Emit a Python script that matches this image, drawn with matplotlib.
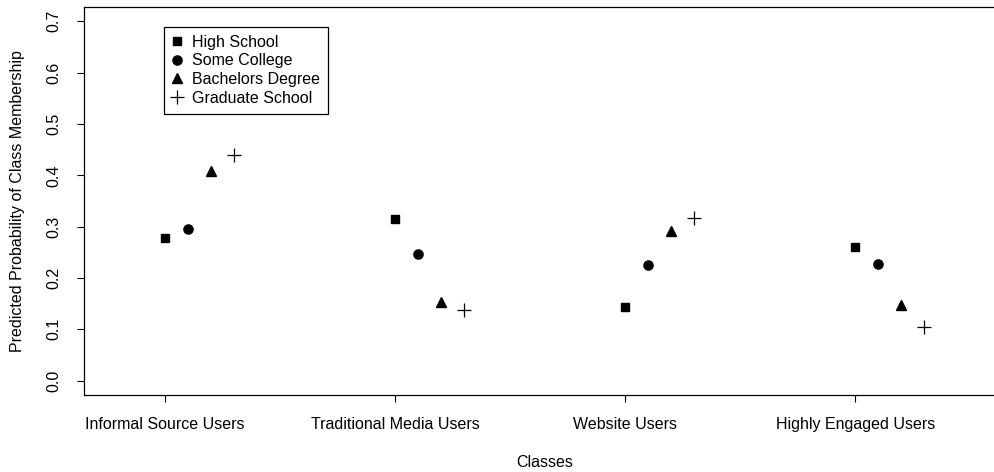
"""
Predicted probability of class membership by education level.
"""
import matplotlib
matplotlib.use("Agg")
from matplotlib import pyplot as plt
import numpy as np


CLASSES = ["Informal Source Users", "Traditional Media Users",
           "Website Users", "Highly Engaged Users"]
EDUCATION = ["High School", "Some College", "Bachelors Degree", "Graduate School"]

HIGH_SCHOOL = [0.277, 0.314, 0.143, 0.261]
SOME_COLLEGE = [0.296, 0.246, 0.225, 0.228]
BACHELORS = [0.409, 0.154, 0.291, 0.148]
GRADUATE = [0.440, 0.137, 0.316, 0.104]

OFFSETS = [0.0, 0.1, 0.2, 0.3]
MARKERS = {
    "High School": dict(marker="s", ms=5.8),
    "Some College": dict(marker="o", ms=6.6),
    "Bachelors Degree": dict(marker="^", ms=7.0),
    "Graduate School": dict(marker="+", ms=9.5, mew=0.9),
}
FONTSIZE = 11.5


if __name__ == "__main__":
    plt.rcParams["font.family"] = ["Liberation Sans", "DejaVu Sans"]
    plt.rcParams["font.size"] = FONTSIZE

    fig = plt.figure(figsize=(9.95, 4.72), dpi=100)
    ax = fig.add_axes([84 / 995, 77 / 472, 1 - 84 / 995 + 0.01, 388 / 472])

    x = np.arange(1, len(CLASSES) + 1)
    series = [HIGH_SCHOOL, SOME_COLLEGE, BACHELORS, GRADUATE]
    for name, values, off in zip(EDUCATION, series, OFFSETS):
        ax.plot(x + off, values, linestyle="none", color="black",
                label=name, **MARKERS[name])

    ax.set_xlim(0.649, 4.65)
    ax.set_ylim(-0.028, 0.728)
    ax.set_xticks(x)
    ax.set_xticklabels(CLASSES)
    ax.set_yticks(np.arange(0, 0.71, 0.1))
    ax.set_yticklabels([f"{v:.1f}" for v in np.arange(0, 0.71, 0.1)],
                       rotation=90, va="center")
    ax.tick_params(direction="out", length=5, width=0.8, colors="black")
    ax.tick_params(axis="x", pad=10.5)
    ax.tick_params(axis="y", pad=11.5)
    ax.spines["right"].set_visible(False)
    for s in ["left", "top", "bottom"]:
        ax.spines[s].set_linewidth(0.9)

    ax.set_xlabel("Classes", labelpad=17)
    ax.set_ylabel("Predicted Probability of Class Membership", labelpad=15)

    leg = ax.legend(loc="upper left", bbox_to_anchor=(164 / 995, 1 - 27 / 472),
                    bbox_transform=fig.transFigure, borderaxespad=0,
                    fancybox=False, framealpha=1, edgecolor="black",
                    handlelength=0.63, handletextpad=0.63, labelspacing=0.22,
                    borderpad=0.5, fontsize=FONTSIZE)
    leg.get_frame().set_linewidth(0.9)

    fig.savefig("out.png", dpi=100)
